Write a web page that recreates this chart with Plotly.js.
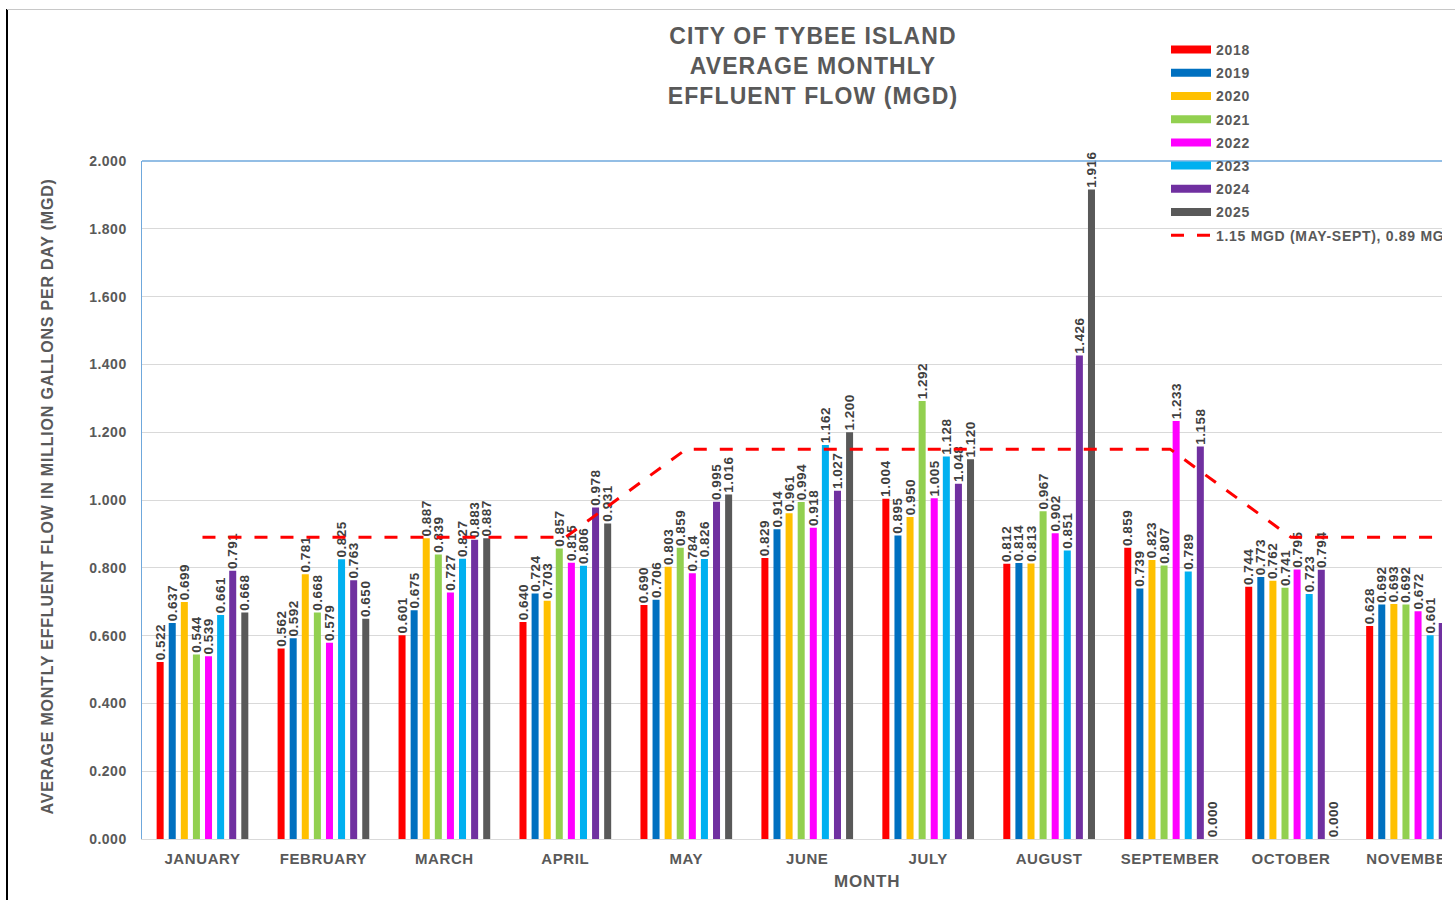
<!DOCTYPE html>
<html>
<head>
<meta charset="utf-8">
<script src="https://cdn.plot.ly/plotly-3.0.1.min.js"></script>
<style>
  html, body { margin: 0; padding: 0; background: #ffffff; width: 1455px; height: 900px; overflow: hidden; }
  #chart { position: absolute; left: 0; top: 0; width: 1442px; height: 900px; }
  #bl { position: absolute; left: 6px; top: 9px; width: 2px; height: 891px; background: #000; }
  #bt { position: absolute; left: 7px; top: 9px; width: 1448px; height: 1px; background: #c8c8c8; }
  #chart .gtitle { letter-spacing: 1.1px; }
  #chart .xtick text { letter-spacing: 0.6px; }
  #chart .ytick text { letter-spacing: 0.5px; }
  #chart .legendtext { letter-spacing: 0.7px; }
  #chart .annotation-text { letter-spacing: 0.8px; }
  #chart .bartext { letter-spacing: 0.5px; }
</style>
</head>
<body>
<div id="chart"></div>
<div id="bl"></div>
<div id="bt"></div>
<script>
const MONTHS = ['JANUARY','FEBRUARY','MARCH','APRIL','MAY','JUNE','JULY','AUGUST','SEPTEMBER','OCTOBER','NOVEMBER','DECEMBER'];
const YEARS = ['2018','2019','2020','2021','2022','2023','2024','2025'];
const Y2018 = [0.522, 0.562, 0.601, 0.640, 0.690, 0.829, 1.004, 0.812, 0.859, 0.744, 0.628, null];
const Y2019 = [0.637, 0.592, 0.675, 0.724, 0.706, 0.914, 0.895, 0.814, 0.739, 0.773, 0.692, null];
const Y2020 = [0.699, 0.781, 0.887, 0.703, 0.803, 0.961, 0.950, 0.813, 0.823, 0.762, 0.693, null];
const Y2021 = [0.544, 0.668, 0.839, 0.857, 0.859, 0.994, 1.292, 0.967, 0.807, 0.741, 0.692, null];
const Y2022 = [0.539, 0.579, 0.727, 0.815, 0.784, 0.918, 1.005, 0.902, 1.233, 0.795, 0.672, null];
const Y2023 = [0.661, 0.825, 0.827, 0.806, 0.826, 1.162, 1.128, 0.851, 0.789, 0.723, 0.601, null];
const Y2024 = [0.791, 0.763, 0.883, 0.978, 0.995, 1.027, 1.048, 1.426, 1.158, 0.794, 0.637, null];
const Y2025 = [0.668, 0.650, 0.887, 0.931, 1.016, 1.200, 1.120, 1.916, 0.000, 0.000, null, null];
const LIMIT = [0.89, 0.89, 0.89, 0.89, 1.15, 1.15, 1.15, 1.15, 1.15, 0.89, 0.89, 0.89];
const LIMIT_NAME = '1.15 MGD (MAY-SEPT), 0.89 MGD (OCT-APRIL)';
const SERIES = [Y2018, Y2019, Y2020, Y2021, Y2022, Y2023, Y2024, Y2025];
const COLORS = ['#FF0000', '#0070C0', '#FFC000', '#92D050', '#FF00FF', '#00B0F0', '#7030A0', '#595959'];

const FONT = 'Liberation Sans, Arial, sans-serif';
const GREY = '#595959';

const traces = [];
SERIES.forEach((vals, i) => {
  traces.push({
    type: 'bar', x: MONTHS, y: vals, name: YEARS[i],
    legendgroup: YEARS[i], showlegend: false,
    marker: { color: COLORS[i] },
    texttemplate: '%{y:.3f}', textposition: 'outside', textangle: -90,
    constraintext: 'none', cliponaxis: false,
    textfont: { family: FONT, size: 13.5, weight: 'bold', color: '#404040' },
    hoverinfo: 'x+y+name'
  });
});
// legend swatches (no visible marks)
SERIES.forEach((vals, i) => {
  traces.push({
    type: 'scatter', mode: 'lines', x: [MONTHS[0]], y: [null], name: YEARS[i],
    legendgroup: YEARS[i], showlegend: true,
    line: { color: COLORS[i], width: 8 }, hoverinfo: 'skip'
  });
});
traces.push({
  type: 'scatter', mode: 'lines', x: MONTHS, y: LIMIT, name: LIMIT_NAME,
  legendgroup: 'limit',
  line: { color: '#FF0000', width: 3, dash: '13px,13px' },
  cliponaxis: true, hoverinfo: 'x+y'
});

const layout = {
  width: 1442, height: 900,
  margin: { l: 142, r: 0, t: 161, b: 61, autoexpand: false },
  paper_bgcolor: '#ffffff', plot_bgcolor: '#ffffff',
  font: { family: FONT, color: GREY },
  title: {
    text: 'CITY OF TYBEE ISLAND<br>AVERAGE MONTHLY<br>EFFLUENT FLOW (MGD)',
    font: { family: FONT, size: 23, weight: 'bold', color: GREY },
    xref: 'container', x: 813 / 1442, xanchor: 'center',
    yref: 'container', y: 1 - 44 / 900, yanchor: 'top'
  },
  barmode: 'group', bargap: 0.2, bargroupgap: 0.42,
  xaxis: {
    type: 'category', range: [-0.5, 10.248],
    showline: true, linecolor: '#d9d9d9', linewidth: 1,
    ticks: '', showgrid: false,
    tickfont: { family: FONT, size: 15, weight: 'bold', color: GREY },
    ticklabelstandoff: 6
  },
  yaxis: {
    range: [0, 2], dtick: 0.2, tickformat: '.3f',
    showgrid: true, gridcolor: '#d9d9d9', gridwidth: 1,
    showline: true, linecolor: '#6FA8DC', linewidth: 1.5,
    zeroline: false, ticks: '',
    tickfont: { family: FONT, size: 14, weight: 'bold', color: GREY },
    ticklabelstandoff: 11
  },
  shapes: [{
    type: 'line', xref: 'paper', x0: 0, x1: 1, yref: 'paper', y0: 1, y1: 1,
    line: { color: '#6FA8DC', width: 1.5 }, layer: 'above'
  }],
  legend: {
    x: (1166 - 142) / 1300, xanchor: 'left',
    y: 1 + (161 - 34) / 678, yanchor: 'top',
    bgcolor: 'rgba(0,0,0,0)', borderwidth: 0,
    font: { family: FONT, size: 14, weight: 'bold', color: GREY },
    tracegroupgap: 2, itemwidth: 40, traceorder: 'grouped'
  },
  annotations: [
    {
      text: 'AVERAGE MONTLY EFFLUENT FLOW IN MILLION GALLONS PER DAY (MGD)',
      xref: 'paper', x: (47 - 142) / 1300, yref: 'paper', y: (839 - 497) / 678,
      xanchor: 'center', yanchor: 'middle', textangle: -90, showarrow: false,
      font: { family: FONT, size: 16, weight: 'bold', color: GREY }
    },
    {
      text: 'MONTH',
      xref: 'paper', x: (867 - 142) / 1300, yref: 'paper', y: -(881 - 839) / 678,
      xanchor: 'center', yanchor: 'middle', showarrow: false,
      font: { family: FONT, size: 17, weight: 'bold', color: GREY }
    }
  ],
  showlegend: true
};

Plotly.newPlot('chart', traces, layout, { displayModeBar: false, staticPlot: true });
</script>
</body>
</html>
